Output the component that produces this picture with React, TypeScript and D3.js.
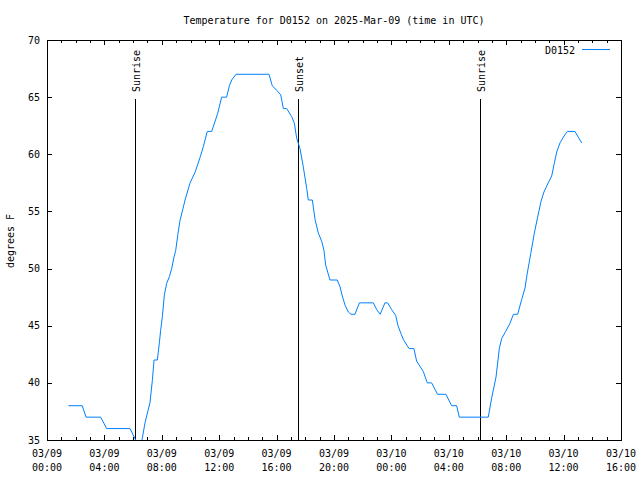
import React from "react";
import * as d3 from "d3";

const TITLE = "Temperature for D0152 on 2025-Mar-09 (time in UTC)";
const SERIES_NAME = "D0152";
const Y_LABEL = "degrees F";
const START = "2025-03-09T00:00:00Z";

// hours after 2025-03-09 00:00 UTC
const hoursUTC = [
  1.49, 2.46, 2.72, 3.74, 4.16, 5.78, 6.18, 6.32, 6.47, 6.62, 6.83, 7.18, 7.34, 7.46, 7.69,
  7.83, 7.92, 8.04, 8.18, 8.34, 8.53, 8.69, 8.85, 8.97, 9.12, 9.27, 9.62, 9.97, 10.31,
  10.66, 10.9, 11.17, 11.48, 11.9, 12.17, 12.52, 12.71, 12.87, 13.17, 15.47, 15.7, 16.0,
  16.29, 16.47, 16.7, 17.05, 17.24, 17.4, 17.63, 17.86, 18.1, 18.21, 18.49, 18.68, 18.91,
  19.14, 19.3, 19.42, 19.56, 19.72, 20.23, 20.42, 20.6, 20.77, 21.0, 21.18, 21.46, 21.77,
  22.74, 22.98, 23.22, 23.55, 23.74, 24.02, 24.3, 24.46, 24.67, 24.83, 25.23, 25.57,
  25.76, 26.22, 26.5, 26.8, 27.22, 27.8, 28.2, 28.55, 28.73, 30.75, 30.99, 31.29, 31.52,
  31.69, 31.92, 32.26, 32.5, 32.8, 33.08, 33.31, 33.47, 33.71, 33.96, 34.19, 34.43, 34.63,
  34.93, 35.17, 35.35, 35.52, 35.75, 35.98, 36.26, 36.79, 37.02, 37.26,
];
const tempF = [
  38, 38, 37, 37, 36, 36, 35, 34.6, 34.3, 35, 36.5, 38.3, 40.2, 42, 42,
  43.5, 44.6, 45.8, 47.7, 48.7, 49.3, 50, 51, 51.6, 53, 54.2, 56, 57.5, 58.4,
  59.7, 60.7, 62, 62, 63.6, 65, 65, 66, 66.5, 67, 67, 66, 65.6,
  65.2, 64, 64, 63.3, 62.7, 61.4, 60.5, 58.9, 57, 56, 56, 54.3, 53.1,
  52.4, 51.6, 50.3, 49.7, 49, 49, 48.4, 47.5, 46.8, 46.2, 46, 46, 47,
  47, 46.4, 46, 47, 47, 46.4, 45.9, 45, 44.3, 43.8, 43, 43,
  41.9, 41, 40, 40, 39, 39, 38, 38, 37, 37, 38.7, 40.5, 43,
  43.9, 44.4, 45.2, 46, 46, 47.3, 48.3, 49.6, 51.3, 53.1, 54.5, 55.9, 56.7,
  57.5, 58.1, 59.2, 60.2, 61, 61.5, 62, 62, 61.5, 61,
];

const sunEventHours = [6.13, 17.49, 30.17];
const sunEventLabels = ["Sunrise", "Sunset", "Sunrise"];

const yTicks = [35, 40, 45, 50, 55, 60, 65, 70];
const xMajorHours = [0, 4, 8, 12, 16, 20, 24, 28, 32, 36, 40];

const W = 640, H = 480;
const M = { left: 47, right: 621, top: 40, bottom: 440 };
const FONT = "'DejaVu Sans Mono', monospace";
const LINE_COLOR = "#0080ff";

export default function App() {
  const t0 = new Date(START).getTime();
  const toDate = (h: number) => new Date(t0 + h * 3600e3);

  const x = d3.scaleUtc().domain([toDate(0), toDate(40)]).range([M.left, M.right]);
  const y = d3.scaleLinear().domain([35, 70]).range([M.bottom, M.top]);

  const data = hoursUTC.map((h, i) => ({ t: toDate(h), v: tempF[i] }));
  const line = d3.line<{ t: Date; v: number }>().x((d) => x(d.t)).y((d) => y(d.v));

  const fmtDate = d3.utcFormat("%m/%d");
  const fmtTime = d3.utcFormat("%H:%M");
  const minorHours = d3.range(0, 41).filter((h) => h % 4 !== 0);

  return (
    <svg
      width={W}
      height={H}
      style={{ position: "absolute", left: 0, top: 0, background: "#fff" }}
      fontFamily={FONT}
      fontSize={10}
    >
      <rect x={0} y={0} width={W} height={H} fill="#fff" />
      <defs>
        <clipPath id="plot">
          <rect x={M.left} y={M.top} width={M.right - M.left} height={M.bottom - M.top} />
        </clipPath>
      </defs>

      <text x={334} y={24} textAnchor="middle" fill="#000">{TITLE}</text>

      <text
        transform={`translate(14,241) rotate(-90)`}
        textAnchor="middle"
        fill="#000"
      >
        {Y_LABEL}
      </text>

      {/* y ticks */}
      {yTicks.map((v) => (
        <g key={"y" + v} shapeRendering="crispEdges">
          <line x1={M.left} x2={M.left + 5} y1={Math.round(y(v)) + 0.5} y2={Math.round(y(v)) + 0.5} stroke="#000" />
          <line x1={M.right - 5} x2={M.right} y1={Math.round(y(v)) + 0.5} y2={Math.round(y(v)) + 0.5} stroke="#000" />
          <text x={40} y={y(v) + 3.5} textAnchor="end" fill="#000">{v}</text>
        </g>
      ))}

      {/* x ticks */}
      {xMajorHours.map((h) => {
        const px = Math.round(x(toDate(h))) + 0.5;
        return (
          <g key={"x" + h} shapeRendering="crispEdges">
            <line x1={px} x2={px} y1={M.bottom} y2={M.bottom - 5} stroke="#000" />
            <line x1={px} x2={px} y1={M.top} y2={M.top + 5} stroke="#000" />
            <text x={x(toDate(h))} y={457} textAnchor="middle" fill="#000">{fmtDate(toDate(h))}</text>
            <text x={x(toDate(h))} y={471} textAnchor="middle" fill="#000">{fmtTime(toDate(h))}</text>
          </g>
        );
      })}
      {minorHours.map((h) => {
        const px = Math.round(x(toDate(h))) + 0.5;
        return (
          <g key={"m" + h} shapeRendering="crispEdges">
            <line x1={px} x2={px} y1={M.bottom} y2={M.bottom - 3} stroke="#000" />
            <line x1={px} x2={px} y1={M.top} y2={M.top + 3} stroke="#000" />
          </g>
        );
      })}

      {/* sun events */}
      {sunEventHours.map((h, i) => {
        const px = Math.round(x(toDate(h))) + 0.5;
        return (
          <g key={"s" + i}>
            <line x1={px} x2={px} y1={99} y2={M.bottom} stroke="#000" shapeRendering="crispEdges" />
            <text transform={`translate(${px + 4.5},92) rotate(-90)`} textAnchor="start" fill="#000">
              {sunEventLabels[i]}
            </text>
          </g>
        );
      })}

      {/* data */}
      <path d={line(data) || ""} fill="none" stroke={LINE_COLOR} strokeWidth={1} clipPath="url(#plot)" />

      {/* legend */}
      <text x={575} y={53.5} textAnchor="end" fill="#000">{SERIES_NAME}</text>
      <line x1={582} x2={610} y1={49.5} y2={49.5} stroke={LINE_COLOR} shapeRendering="crispEdges" />

      {/* frame */}
      <rect
        x={M.left + 0.5}
        y={M.top + 0.5}
        width={M.right - M.left}
        height={M.bottom - M.top}
        fill="none"
        stroke="#000"
        shapeRendering="crispEdges"
      />
    </svg>
  );
}
